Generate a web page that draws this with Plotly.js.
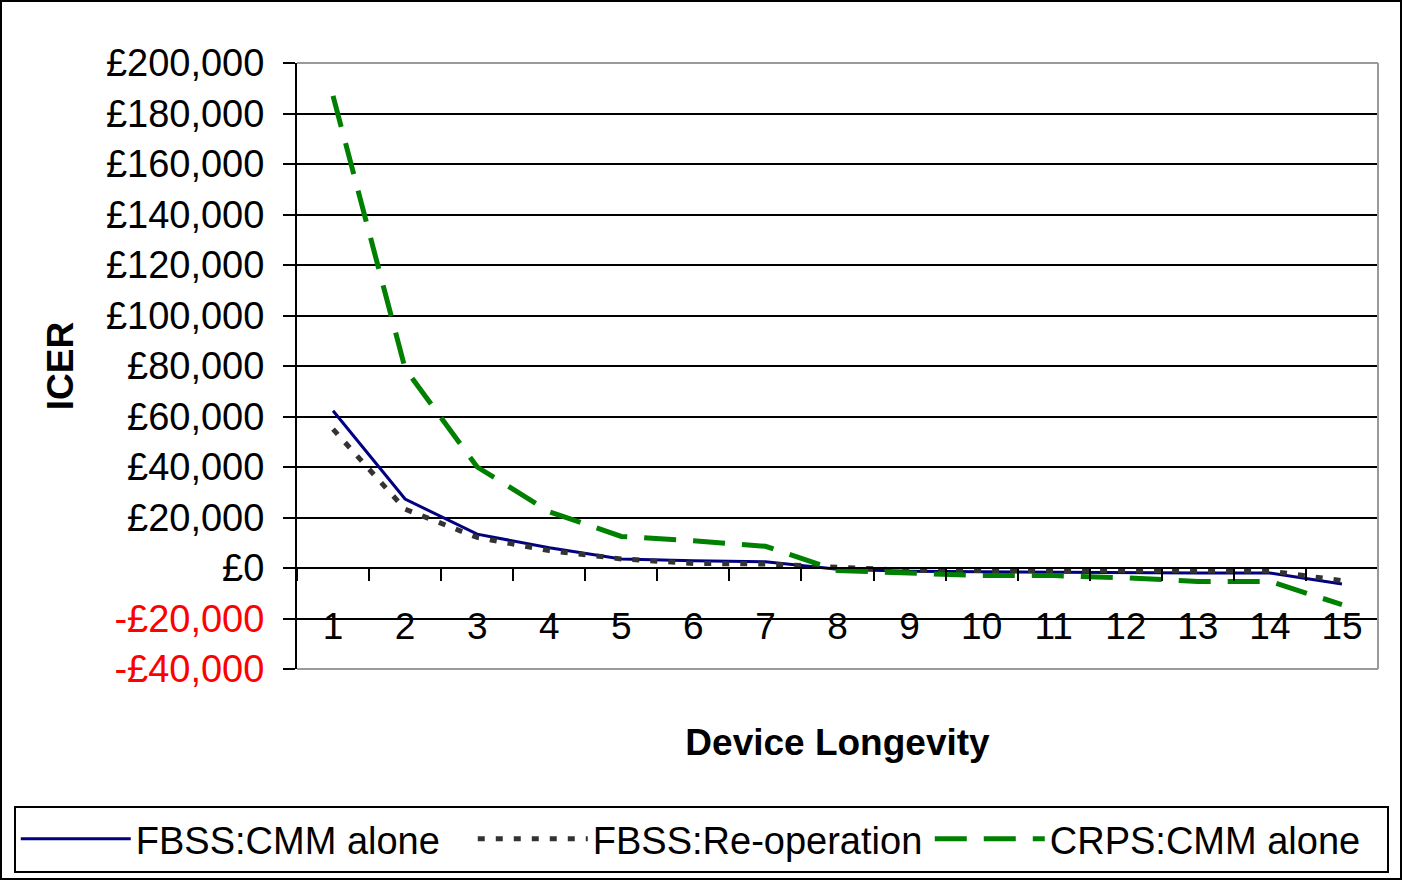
<!DOCTYPE html>
<html>
<head>
<meta charset="utf-8">
<script src="https://cdn.plot.ly/plotly-3.0.1.min.js"></script>
<style>
  html, body { margin: 0; padding: 0; background: #fff; }
  #wrap { position: relative; width: 1402px; height: 880px; box-sizing: border-box; border: 2px solid #000; background: #fff; }
  #chart { position: absolute; left: 0; top: 0; width: 1398px; height: 876px; }
</style>
</head>
<body>
<div id="wrap"><div id="chart"></div></div>
<script>
// ---- Data ----
const longevity = ['1','2','3','4','5','6','7','8','9','10','11','12','13','14','15'];
const fbssCmmAlone = [62300, 27300, 13400, 8000, 3600, 2900, 2500, -500, -1300, -1500, -1600, -1700, -2000, -2000, -6300];
const fbssReoperation = [55000, 23300, 12100, 6900, 3600, 1800, 1600, 300, -1000, -1000, -1100, -1100, -1200, -1200, -5000];
const crpsCmmAlone = [187000, 79000, 40000, 22300, 12500, 10800, 8600, -1000, -2000, -3000, -3000, -3900, -5300, -5300, -14500];
const seriesNames = ['FBSS:CMM alone', 'FBSS:Re-operation', 'CRPS:CMM alone'];
const yTickVals = [-40000, -20000, 0, 20000, 40000, 60000, 80000, 100000, 120000, 140000, 160000, 180000, 200000];
const yTickText = ['<span style="color:#ff0000">-£40,000</span>', '<span style="color:#ff0000">-£20,000</span>', '£0', '£20,000', '£40,000', '£60,000', '£80,000', '£100,000', '£120,000', '£140,000', '£160,000', '£180,000', '£200,000'];

const FONT = 'Liberation Sans, Arial, sans-serif';

const traces = [
  { x: longevity, y: fbssCmmAlone, name: seriesNames[0], type: 'scatter', mode: 'lines',
    line: { color: '#000080', width: 3 } },
  { x: longevity, y: fbssReoperation, name: seriesNames[1], type: 'scatter', mode: 'lines',
    line: { color: '#333333', width: 5, dash: '7px,11px' } },
  { x: longevity, y: crpsCmmAlone, name: seriesNames[2], type: 'scatter', mode: 'lines',
    line: { color: '#008000', width: 5, dash: '32px,17px' } }
];

const layout = {
  width: 1398, height: 876,
  margin: { l: 295, r: 22, t: 61, b: 209, autoexpand: false },
  paper_bgcolor: '#ffffff', plot_bgcolor: '#ffffff',
  font: { family: FONT, color: '#000', size: 38 },
  showlegend: true,
  xaxis: {
    type: 'category', range: [-0.5, 14.5],
    anchor: 'free', position: 40000 / 240000,
    showline: true, linecolor: '#000', linewidth: 2,
    showgrid: false, zeroline: false,
    tickson: 'boundaries', ticks: 'outside', ticklen: 12, tickwidth: 2, tickcolor: '#000',
    tickfont: { family: FONT, size: 37, color: '#000' },
    ticklabelstandoff: 26,
    title: { text: '<b>Device Longevity</b>', font: { family: FONT, size: 37, color: '#000' }, standoff: 82 }
  },
  yaxis: {
    range: [-40000, 200000],
    tickvals: yTickVals, ticktext: yTickText,
    showline: true, linecolor: '#000', linewidth: 2,
    showgrid: true, gridcolor: '#000', gridwidth: 2,
    zeroline: false,
    ticks: 'outside', ticklen: 12, tickwidth: 2, tickcolor: '#000',
    tickfont: { family: FONT, size: 38, color: '#000' },
    ticklabelstandoff: 11,
    title: { text: '<b>ICER</b>', font: { family: FONT, size: 37, color: '#000' }, standoff: 21 }
  },
  legend: {
    orientation: 'h', x: -0.262, xanchor: 'left', y: -0.2255, yanchor: 'top',
    bgcolor: '#fff', bordercolor: '#000', borderwidth: 2,
    font: { family: FONT, size: 38, color: '#000' },
    itemwidth: 110, entrywidth: 332, entrywidthmode: 'pixels', tracegroupgap: 0
  },
  shapes: [
    { type: 'line', xref: 'paper', yref: 'paper', x0: 0, x1: 1, y0: 1, y1: 1, line: { color: '#9a9a9a', width: 2 }, layer: 'above' },
    { type: 'line', xref: 'paper', yref: 'paper', x0: 1, x1: 1, y0: 0, y1: 1, line: { color: '#9a9a9a', width: 2 }, layer: 'above' },
    { type: 'line', xref: 'paper', yref: 'paper', x0: 0, x1: 1, y0: 0, y1: 0, line: { color: '#9a9a9a', width: 2 }, layer: 'above' }
  ]
};

Plotly.newPlot('chart', traces, layout, { displayModeBar: false, staticPlot: true });
</script>
</body>
</html>
